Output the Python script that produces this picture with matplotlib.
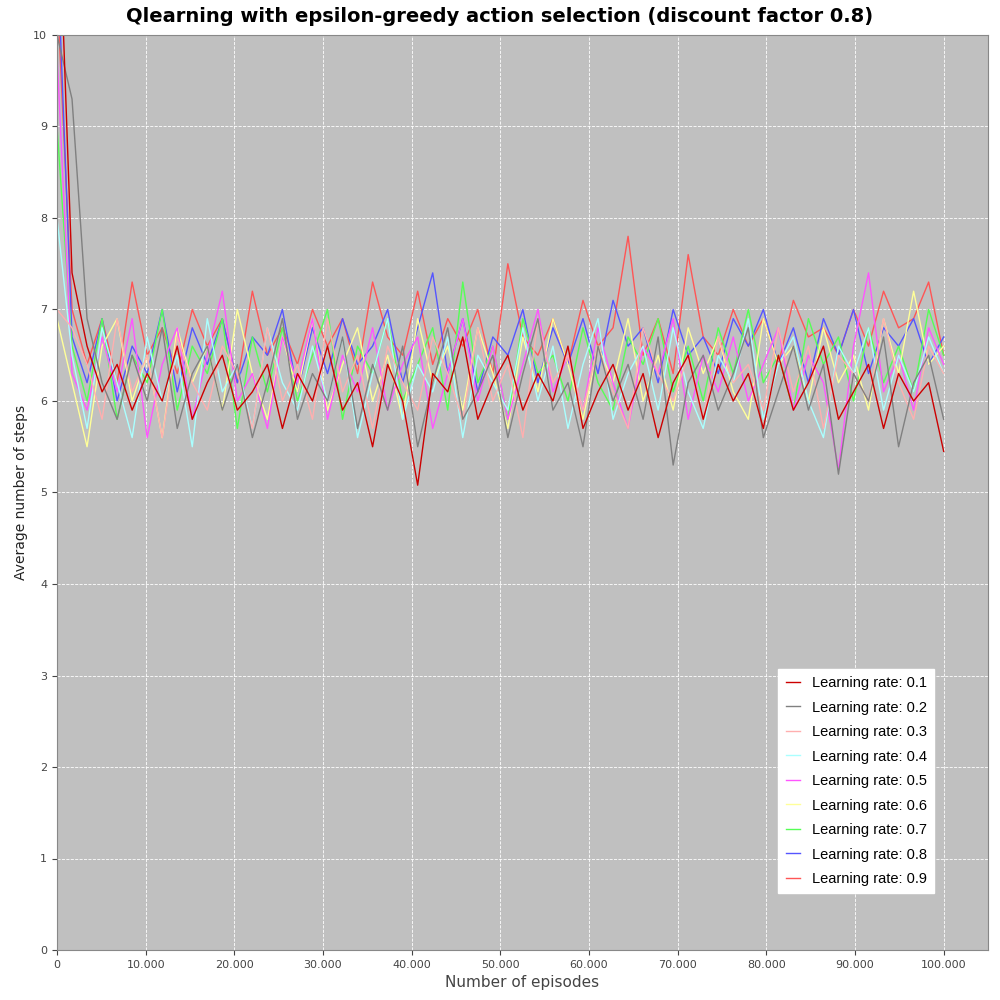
import numpy as np
import matplotlib
matplotlib.use("Agg")
import matplotlib.pyplot as plt
from matplotlib.ticker import FuncFormatter

labels = ["Learning rate: 0.%d" % i for i in range(1, 10)]
colors = ["#CC0000", "#808080", "#FFAFAF", "#AAFFFF", "#FF55FF", "#FFFF99", "#55FF55", "#5555FF", "#FF5555"]

lr01 = [12.0, 7.4, 6.6, 6.1, 6.4, 5.9, 6.3, 6.0, 6.6, 5.8, 6.2, 6.5, 5.9, 6.1, 6.4, 5.7, 6.3, 6.0, 6.6, 5.9, 6.2, 5.5, 6.4, 6.0, 5.08, 6.3, 6.1, 6.7, 5.8, 6.2, 6.5, 5.9, 6.3, 6.0, 6.6, 5.7, 6.1, 6.4, 5.9, 6.3, 5.6, 6.2, 6.5, 5.8, 6.4, 6.0, 6.3, 5.7, 6.5, 5.9, 6.2, 6.6, 5.8, 6.1, 6.4, 5.7, 6.3, 6.0, 6.2, 5.45]
lr02 = [10.0, 9.3, 6.9, 6.2, 5.8, 6.5, 6.0, 6.8, 5.7, 6.3, 6.6, 5.9, 6.4, 5.6, 6.2, 6.9, 5.8, 6.3, 6.0, 6.7, 5.7, 6.4, 5.9, 6.6, 5.5, 6.2, 6.8, 5.8, 6.1, 6.5, 5.6, 6.3, 6.9, 5.9, 6.2, 5.5, 6.6, 6.0, 6.4, 5.8, 6.7, 5.3, 6.2, 6.5, 5.9, 6.3, 6.8, 5.6, 6.1, 6.6, 5.9, 6.4, 5.2, 6.3, 6.0, 6.7, 5.5, 6.2, 6.5, 5.8]
lr03 = [7.0, 6.8, 6.4, 5.8, 6.9, 6.1, 6.5, 5.6, 6.7, 6.2, 5.9, 6.6, 6.3, 5.7, 6.8, 6.0, 6.4, 5.8, 6.9, 6.1, 6.5, 5.7, 6.6, 6.2, 5.9, 6.7, 6.3, 5.8, 6.8, 6.0, 6.4, 5.6, 6.9, 6.2, 6.5, 5.9, 6.6, 6.1, 5.7, 6.8, 6.3, 6.0, 6.5, 5.8, 6.7, 6.2, 6.4, 5.9, 6.8, 6.1, 6.6, 5.7, 6.5, 6.3, 6.0, 6.9, 6.2, 5.8, 6.6, 6.3]
lr04 = [8.0, 6.5, 5.7, 6.8, 6.2, 5.6, 6.7, 6.0, 6.5, 5.5, 6.9, 6.1, 6.4, 5.7, 6.8, 6.2, 5.9, 6.6, 6.0, 6.7, 5.6, 6.3, 6.9, 5.8, 6.4, 6.1, 6.7, 5.6, 6.5, 6.2, 5.9, 6.8, 6.0, 6.6, 5.7, 6.4, 6.9, 5.8, 6.3, 6.6, 5.9, 6.8, 6.1, 5.7, 6.5, 6.2, 6.9, 5.8, 6.4, 6.7, 6.0, 5.6, 6.6, 6.3, 6.8, 5.9, 6.5, 6.1, 6.7, 6.3]
lr05 = [9.8, 6.3, 5.9, 6.7, 6.1, 6.9, 5.6, 6.4, 6.8, 5.8, 6.5, 7.2, 6.0, 6.3, 5.7, 6.7, 6.2, 6.9, 5.8, 6.5, 6.1, 6.8, 5.9, 6.4, 6.7, 5.7, 6.3, 6.9, 6.0, 6.6, 5.8, 6.4, 7.0, 6.1, 6.5, 5.9, 6.8, 6.2, 5.7, 6.6, 6.3, 6.9, 5.8, 6.5, 6.1, 6.7, 6.0, 6.4, 6.8, 5.9, 6.5, 6.2, 5.25, 6.6, 7.4, 6.1, 6.5, 5.9, 6.8, 6.4]
lr06 = [6.9, 6.2, 5.5, 6.6, 6.9, 6.0, 6.5, 5.6, 6.8, 6.2, 6.6, 5.9, 7.0, 6.3, 5.8, 6.7, 6.1, 6.9, 5.9, 6.4, 6.8, 6.0, 6.5, 5.8, 6.9, 6.2, 6.6, 5.9, 6.8, 6.3, 5.7, 6.7, 6.1, 6.9, 6.4, 5.8, 6.6, 6.2, 6.9, 6.0, 6.5, 5.9, 6.8, 6.3, 6.7, 6.1, 5.8, 6.9, 6.4, 6.6, 6.0, 6.8, 6.2, 6.5, 5.9, 6.9, 6.3, 7.2, 6.4, 6.6]
lr07 = [9.0, 6.6, 6.0, 6.9, 5.8, 6.5, 6.2, 7.0, 5.9, 6.6, 6.3, 6.9, 5.7, 6.7, 6.1, 6.8, 6.0, 6.5, 7.0, 5.8, 6.6, 6.3, 6.9, 6.0, 6.4, 6.8, 5.9, 7.3, 6.2, 6.6, 5.8, 6.9, 6.3, 6.5, 6.0, 6.8, 6.2, 5.9, 6.7, 6.4, 6.9, 6.1, 6.6, 6.0, 6.8, 6.3, 7.0, 6.2, 6.5, 5.9, 6.9, 6.4, 6.7, 6.0, 6.8, 6.2, 6.6, 6.1, 7.0, 6.5]
lr08 = [11.0, 6.7, 6.2, 6.9, 6.0, 6.6, 6.3, 7.0, 6.1, 6.8, 6.4, 6.9, 6.2, 6.7, 6.5, 7.0, 6.1, 6.8, 6.3, 6.9, 6.4, 6.6, 7.0, 6.2, 6.8, 7.4, 6.3, 6.9, 6.1, 6.7, 6.5, 7.0, 6.2, 6.8, 6.4, 6.9, 6.3, 7.1, 6.6, 6.8, 6.2, 7.0, 6.5, 6.7, 6.3, 6.9, 6.6, 7.0, 6.4, 6.8, 6.2, 6.9, 6.5, 7.0, 6.3, 6.8, 6.6, 6.9, 6.4, 6.7]
lr09 = [10.5, 7.0, 6.4, 6.9, 6.2, 7.3, 6.5, 6.8, 6.3, 7.0, 6.6, 6.9, 6.2, 7.2, 6.5, 6.8, 6.4, 7.0, 6.6, 6.9, 6.3, 7.3, 6.7, 6.5, 7.2, 6.4, 6.9, 6.6, 7.0, 6.3, 7.5, 6.7, 6.5, 6.9, 6.4, 7.1, 6.6, 6.8, 7.8, 6.5, 6.9, 6.3, 7.6, 6.7, 6.5, 7.0, 6.6, 6.9, 6.4, 7.1, 6.7, 6.8, 6.5, 7.0, 6.6, 7.2, 6.8, 6.9, 7.3, 6.5]

series = [lr01, lr02, lr03, lr04, lr05, lr06, lr07, lr08, lr09]

fig = plt.figure(figsize=(10, 10), dpi=100)
ax = fig.add_axes([0.057, 0.05, 0.931, 0.915])
ax.set_facecolor("#C0C0C0")
for vals, c, lab in reversed(list(zip(series, colors, labels))):
    x = np.linspace(0, 100000, len(vals))
    ax.plot(x, vals, color=c, lw=1.0, label=lab)
ax.set_xlim(0, 105000)
ax.set_ylim(0, 10)
ax.set_xticks(np.arange(0, 100001, 10000))
ax.set_yticks(np.arange(0, 11, 1))
ax.xaxis.set_major_formatter(FuncFormatter(lambda v, p: "0" if v == 0 else f"{int(v):,}".replace(",", ".")))
ax.grid(True, color="white", ls="--", lw=0.6)
ax.tick_params(labelsize=8, colors="#444444")
for s in ax.spines.values():
    s.set_color("#888888")
ax.set_xlabel("Number of episodes", fontsize=11, color="#444444")
ax.set_ylabel("Average number of steps", fontsize=10, color="#222222")
fig.suptitle("Qlearning with epsilon-greedy action selection (discount factor 0.8)",
             fontsize=14, fontweight="bold", y=0.993)
h, l = ax.get_legend_handles_labels()
leg = ax.legend(h[::-1], l[::-1], loc="lower right", bbox_to_anchor=(0.95, 0.054),
                prop={"family": "Liberation Sans", "size": 10.5}, frameon=True,
                fancybox=False, edgecolor="white", facecolor="white", framealpha=1.0,
                handlelength=1.0, labelspacing=0.72, borderpad=0.5)
fig.savefig("out.png", dpi=100)
